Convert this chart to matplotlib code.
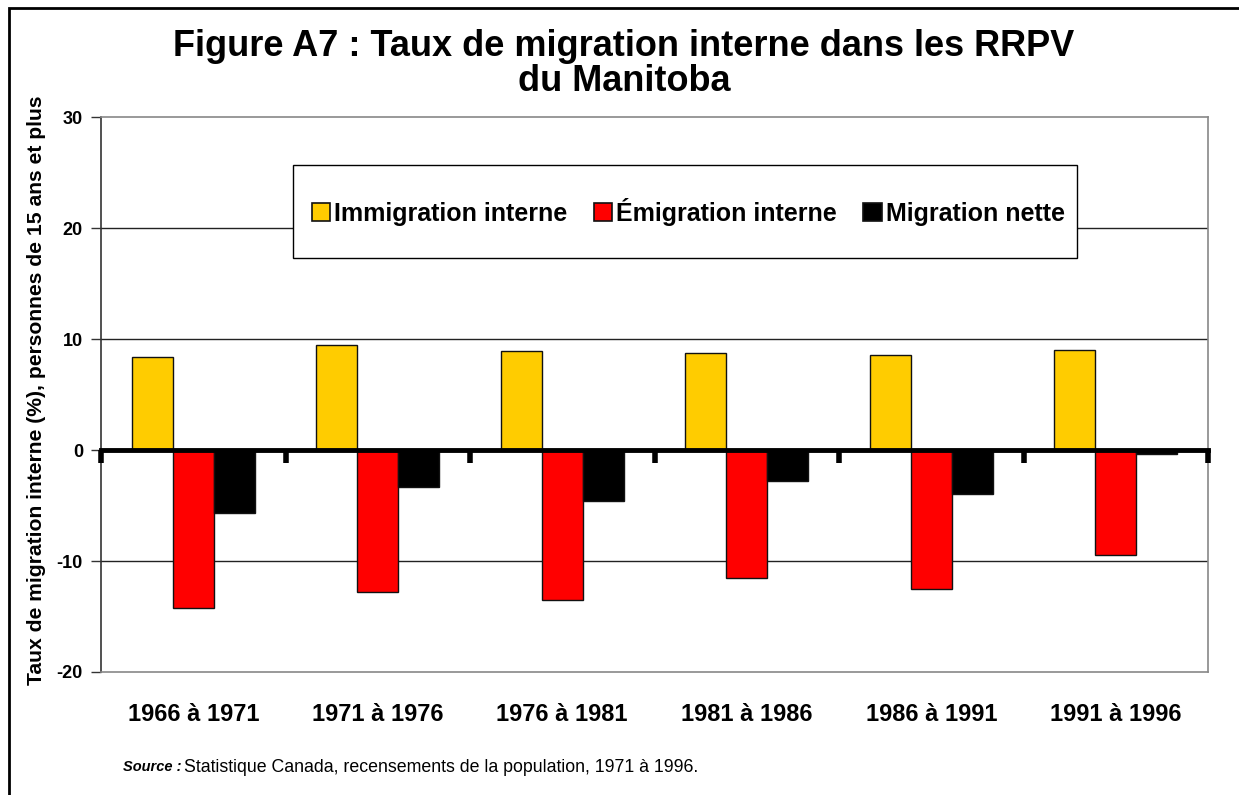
import matplotlib
matplotlib.use('Agg')
import matplotlib.pyplot as plt
import numpy as np
from matplotlib.patches import Patch, Rectangle

plt.rcParams['font.family'] = ['Liberation Sans', 'DejaVu Sans']
plt.rcParams['font.weight'] = 'bold'

periodes = ['1966 à 1971', '1971 à 1976', '1976 à 1981',
            '1981 à 1986', '1986 à 1991', '1991 à 1996']
immigration = [8.4, 9.5, 8.9, 8.7, 8.6, 9.0]
emigration = [-14.2, -12.8, -13.5, -11.5, -12.5, -9.5]
migration_nette = [-5.7, -3.3, -4.6, -2.8, -4.0, -0.4]
series_noms = ['Immigration interne', 'Émigration interne', 'Migration nette']
series_couleurs = ['#ffcc00', '#ff0000', '#000000']
y_ticks = [-20, -10, 0, 10, 20, 30]

W, H = 1239, 795
fig = plt.figure(figsize=(W / 100, H / 100), dpi=100, facecolor='white')
ax = fig.add_axes([101 / W, 1 - 672 / H, (1208 - 101) / W, (672 - 117) / H])

x = np.arange(len(periodes))
largeur = 0.223
valeurs = [immigration, emigration, migration_nette]
for i, (vals, nom, coul) in enumerate(zip(valeurs, series_noms, series_couleurs)):
    ax.bar(x + (i - 1) * largeur, vals, largeur, color=coul, edgecolor='#111111',
           linewidth=1.0, label=nom, zorder=3)

ax.set_xlim(-0.5, len(periodes) - 0.5)
ax.set_ylim(-20, 30)
ax.set_yticks(y_ticks)
ax.set_yticklabels([str(v) for v in y_ticks], fontsize=13, fontweight='bold')
ax.tick_params(axis='y', direction='out', length=7, width=1, color='#333333', pad=6)
for v in [-10, 10, 20]:
    ax.axhline(v, color='#222222', linewidth=1.0, zorder=1)

for side in ['top', 'right', 'bottom']:
    ax.spines[side].set_color('#888888')
    ax.spines[side].set_linewidth(1.2)
ax.spines['left'].set_color('#333333')
ax.spines['left'].set_linewidth(1.2)

# category labels below the plot, no tick marks there
ax.set_xticks(x)
ax.set_xticklabels(periodes, fontsize=17, fontweight='bold')
ax.tick_params(axis='x', length=0, pad=22)

# axis at zero with ticks at group boundaries (Excel style)
zero_pos = (0 - (-20)) / 50
axe_zero = ax.secondary_xaxis(zero_pos)
axe_zero.set_xticks(np.arange(-0.5, len(periodes), 1.0))
axe_zero.set_xticklabels([])
axe_zero.tick_params(direction='out', length=9, width=4, color='black')
axe_zero.spines['bottom'].set_linewidth(3.5)
axe_zero.spines['bottom'].set_color('black')
axe_zero.set_zorder(4)

# legend box drawn separately (Excel box is much taller than the text)
cadre = Rectangle((293 / W, 1 - 258 / H), (1077 - 293) / W, (258 - 165) / H,
                  transform=fig.transFigure, facecolor='white', edgecolor='black',
                  linewidth=1.0, zorder=2.5)
ax.add_patch(cadre)
handles = [Patch(facecolor=c, edgecolor='#111111', linewidth=1.2) for c in series_couleurs]
leg = ax.legend(handles, series_noms, loc='center', ncol=3,
                bbox_to_anchor=(((293 + 1077) / 2 + 3) / W, 1 - ((165 + 258) / 2) / H),
                bbox_transform=fig.transFigure, frameon=False, fontsize=18,
                handlelength=0.75, handleheight=0.75, handletextpad=0.15,
                columnspacing=1.05, borderaxespad=0, borderpad=0)
leg.set_zorder(5)
for t in leg.get_texts():
    t.set_fontweight('bold')

fig.text(624 / W, 1 - 64 / H, 'Figure A7 : Taux de migration interne dans les RRPV\ndu Manitoba',
         ha='center', va='center', fontsize=26, fontweight='bold', linespacing=1.03)
fig.text(37 / W, 1 - 390 / H, 'Taux de migration interne (%), personnes de 15 ans et plus',
         rotation=90, ha='center', va='center', fontsize=15.2, fontweight='bold')

# source line: bold italic lead-in, then the rest right after it
src = fig.text(123 / W, 1 - 767 / H, 'Source :', ha='left', va='center', fontsize=10.5,
               fontweight='bold', style='italic')
ax.annotate('Statistique Canada, recensements de la population, 1971 à 1996.',
            xy=(1, 0.5), xycoords=src, xytext=(2, 0), textcoords='offset points',
            ha='left', va='center', fontsize=12.8, fontweight='normal',
            annotation_clip=False)

# outer frame of the chart area
fig.patches.append(Rectangle((9 / W, -0.05), 1.2, 1 - 8 / H + 0.05, transform=fig.transFigure,
                             fill=False, edgecolor='black', linewidth=2))

fig.savefig('out.png', dpi=100, facecolor='white')
